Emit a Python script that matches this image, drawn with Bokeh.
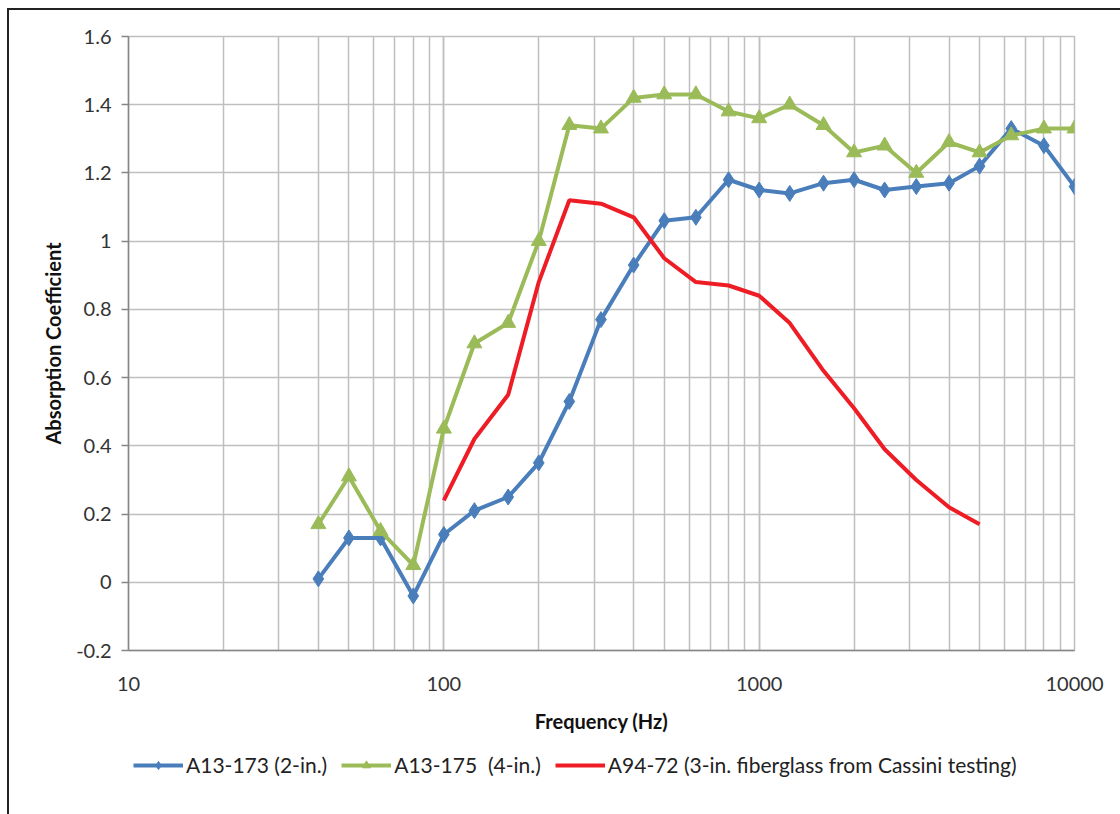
from bokeh.plotting import figure
from bokeh.layouts import column
from bokeh.models import (ColumnDataSource, FixedTicker, CustomJSTickFormatter, Legend, LegendItem)
from bokeh.embed import file_html
from bokeh.resources import INLINE

freqs = [40, 50, 63, 80, 100, 125, 160, 200, 250, 315, 400, 500, 630, 800,
         1000, 1250, 1600, 2000, 2500, 3150, 4000, 5000, 6300, 8000, 10000]
a13_173 = [0.01, 0.13, 0.13, -0.04, 0.14, 0.21, 0.25, 0.35, 0.53, 0.77, 0.93, 1.06, 1.07, 1.18,
           1.15, 1.14, 1.17, 1.18, 1.15, 1.16, 1.17, 1.22, 1.33, 1.28, 1.16]
a13_175 = [0.17, 0.31, 0.15, 0.05, 0.45, 0.70, 0.76, 1.00, 1.34, 1.33, 1.42, 1.43, 1.43, 1.38,
           1.36, 1.40, 1.34, 1.26, 1.28, 1.20, 1.29, 1.26, 1.31, 1.33, 1.33]
freqs_a94 = [100, 125, 160, 200, 250, 315, 400, 500, 630, 800, 1000, 1250, 1600, 2000,
             2500, 3150, 4000, 5000]
a94_72 = [0.24, 0.42, 0.55, 0.88, 1.12, 1.11, 1.07, 0.95, 0.88, 0.87, 0.84, 0.76, 0.62, 0.51,
          0.39, 0.30, 0.22, 0.17]
y_ticks = [-0.2, 0.0, 0.2, 0.4, 0.6, 0.8, 1.0, 1.2, 1.4, 1.6]
labels = ["A13-173 (2-in.)", "A13-175  (4-in.)", "A94-72 (3-in. fiberglass from Cassini testing)"]

FONT = "Lato"
BLUE = "#4a7ebb"
GREEN = "#9bbb59"
RED = "#ee1c25"
GRID = "#bfbfbf"

p = figure(frame_width=946, frame_height=614, x_axis_type="log", x_range=(10, 10000),
           y_range=(-0.2, 1.6), output_backend="svg", toolbar_location=None,
           min_border_left=119, min_border_right=47, min_border_top=26, min_border_bottom=90)

p.outline_line_color = GRID
p.outline_line_width = 1.5
p.xgrid.grid_line_color = GRID
p.xgrid.grid_line_width = 1.5
p.xgrid.minor_grid_line_color = GRID
p.xgrid.minor_grid_line_width = 1.5
p.ygrid.grid_line_color = GRID
p.ygrid.grid_line_width = 1.5
p.yaxis.ticker = FixedTicker(ticks=y_ticks)
p.yaxis.formatter = CustomJSTickFormatter(code="return String(Number(tick.toFixed(1)));")
p.xaxis.formatter = CustomJSTickFormatter(code="return tick.toFixed(0);")

for ax in (p.xaxis[0], p.yaxis[0]):
    ax.axis_line_color = "#868686"
    ax.axis_line_width = 1.5
    ax.major_label_text_font = FONT
    ax.major_label_text_font_size = "20px"
    ax.major_label_text_color = "#333333"
    ax.axis_label_text_font = FONT
    ax.axis_label_text_font_style = "bold"
    ax.axis_label_text_font_size = "20px"
    ax.axis_label_text_color = "#111111"
    ax.minor_tick_line_color = None

p.xaxis.major_tick_line_color = None
p.xaxis.major_label_standoff = 20
p.xaxis.axis_label = "Frequency (Hz)"
p.xaxis.axis_label_standoff = 15
p.yaxis.major_tick_line_color = "#868686"
p.yaxis.major_tick_line_width = 1.5
p.yaxis.major_tick_in = 0
p.yaxis.major_tick_out = 7
p.yaxis.major_label_standoff = 10
p.yaxis.axis_label = "Absorption Coefficient"
p.yaxis.axis_label_standoff = 8

s1 = ColumnDataSource(dict(x=freqs, y=a13_173))
s2 = ColumnDataSource(dict(x=freqs, y=a13_175))
s3 = ColumnDataSource(dict(x=freqs_a94, y=a94_72))

p.line("x", "y", source=s1, line_color=BLUE, line_width=4)
p.scatter("x", "y", source=s1, marker="diamond", size=16, fill_color=BLUE, line_color=BLUE)
p.line("x", "y", source=s2, line_color=GREEN, line_width=4)
p.scatter("x", "y", source=s2, marker="triangle", size=15, fill_color=GREEN, line_color=GREEN)
p.line("x", "y", source=s3, line_color=RED, line_width=4)

# legend strip below the chart; its series lie outside its (0..1) view so only the legend shows
q = figure(width=1112, height=75, x_range=(0, 1), y_range=(0, 1), output_backend="svg",
           toolbar_location=None, x_axis_location=None, y_axis_location=None,
           min_border_left=0, min_border_right=0, min_border_top=0, min_border_bottom=0)
q.outline_line_color = None
q.grid.visible = False
k1 = q.line("x", "y", source=s1, line_color=BLUE, line_width=4)
k1m = q.scatter("x", "y", source=s1, marker="diamond", size=13, fill_color=BLUE, line_color=BLUE)
k2 = q.line("x", "y", source=s2, line_color=GREEN, line_width=4)
k2m = q.scatter("x", "y", source=s2, marker="triangle", size=13, fill_color=GREEN, line_color=GREEN)
k3 = q.line("x", "y", source=s3, line_color=RED, line_width=4)

legend = Legend(items=[LegendItem(label=labels[0], renderers=[k1, k1m]),
                       LegendItem(label=labels[1], renderers=[k2, k2m]),
                       LegendItem(label=labels[2], renderers=[k3])],
                orientation="horizontal", location=(5, 38),
                label_text_font=FONT, label_text_font_size="21px", label_text_color="#222222",
                glyph_width=50, glyph_height=20, label_standoff=3, spacing=14,
                border_line_color=None, background_fill_alpha=0, padding=0, margin=0)
q.add_layout(legend, "center")

layout = column(p, q, spacing=0,
                styles={"margin-left": "7px", "margin-top": "8px",
                        "border-left": "2px solid #222", "border-top": "2px solid #222"})

open("out.html", "w").write(file_html(layout, INLINE))
